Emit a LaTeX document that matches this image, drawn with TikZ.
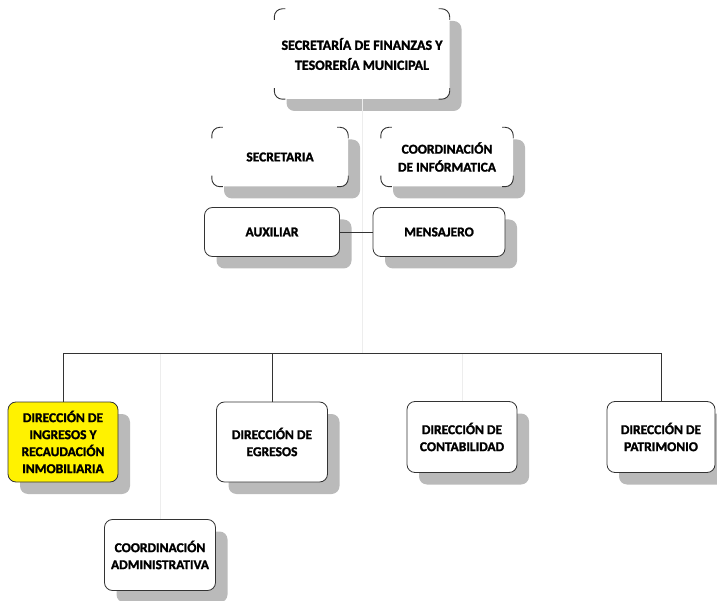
\documentclass[tikz,border=0pt]{standalone}
\usepackage{fontspec}
\setmainfont{Carlito}[BoldFeatures={FakeBold=1.6}]
\usepackage{tikz}
\usetikzlibrary{shadows,calc}
\tikzstyle{unit}=[rectangle, rounded corners=8pt, align=center, inner sep=2pt,
  font=\fontsize{13.5}{17}\selectfont\bfseries, fill=white,
  drop shadow={shadow xshift=12pt, shadow yshift=-12pt, fill=black!27, opacity=1}]
\tikzstyle{framed}=[unit, draw=black!80, line width=.8pt]
\tikzstyle{loose}=[unit, draw=none]
\tikzstyle{faint}=[black!7, line width=1pt]
\tikzstyle{link}=[black!80, line width=.9pt]

\begin{document}
\begin{tikzpicture}[x=1pt,y=-1pt]
    \useasboundingbox (0,0) rectangle (717,601);

    % Head and staff
    \draw (362,54) node[loose, minimum width=175pt, minimum height=90pt,
      font=\fontsize{14}{20}\selectfont\bfseries] (head)
      {SECRETARÍA DE FINANZAS Y\\TESORERÍA MUNICIPAL};
    \draw (280,157) node[loose, minimum width=136pt, minimum height=59pt] (secr) {SECRETARIA};
    \draw (447,157) node[loose, minimum width=132pt, minimum height=59pt,
      font=\fontsize{13.5}{18}\selectfont\bfseries] (info)
      {COORDINACIÓN\\DE INFÓRMATICA};
    \draw (272,232) node[framed, minimum width=135pt, minimum height=49pt] (aux) {AUXILIAR};
    \draw (439,232) node[framed, minimum width=132pt, minimum height=49pt] (mens) {MENSAJERO};

    % Corners only on the upper boxes
    \foreach \n in {head,secr,info}{
      \draw[link,rounded corners=8pt] ([yshift=-11pt]\n.north west) -- (\n.north west) -- ([xshift=11pt]\n.north west);
      \draw[link,rounded corners=8pt] ([yshift=-11pt]\n.north east) -- (\n.north east) -- ([xshift=-11pt]\n.north east);
      \draw[link,rounded corners=8pt] ([yshift=11pt]\n.south west) -- (\n.south west) -- ([xshift=11pt]\n.south west);
      \draw[link,rounded corners=8pt] ([yshift=11pt]\n.south east) -- (\n.south east) -- ([xshift=-11pt]\n.south east);
    }

    % Directions
    \coordinate (bus) at (0,353);
    \draw (63,442) node[framed, fill=yellow, minimum width=110pt, minimum height=80pt] (ingr)
      {DIRECCIÓN DE\\INGRESOS Y\\RECAUDACIÓN\\INMOBILIARIA};
    \draw (272,442) node[framed, minimum width=111pt, minimum height=80pt] (egre)
      {DIRECCIÓN DE\\EGRESOS};
    \draw (462,437) node[framed, minimum width=110pt, minimum height=71pt] (cont)
      {DIRECCIÓN DE\\CONTABILIDAD};
    \draw (661,437) node[framed, minimum width=108pt, minimum height=71pt] (patr)
      {DIRECCIÓN DE\\PATRIMONIO};
    \draw (160,555) node[framed, minimum width=111pt, minimum height=71pt] (admi)
      {COORDINACIÓN\\ADMINISTRATIVA};

    % Connectors
    \draw[faint] (head.south) -- (head.south |- bus);
    \draw[faint] (cont.north) -- (cont.north |- bus);
    \draw[faint] (admi.north) -- (admi.north |- bus);
    \draw[link] (aux) -- (mens);
    \draw[link] (ingr.north) -- (ingr.north |- bus) -- (patr.north |- bus) -- (patr.north);
    \draw[link] (egre.north) -- (egre.north |- bus);

\end{tikzpicture}
\end{document}
